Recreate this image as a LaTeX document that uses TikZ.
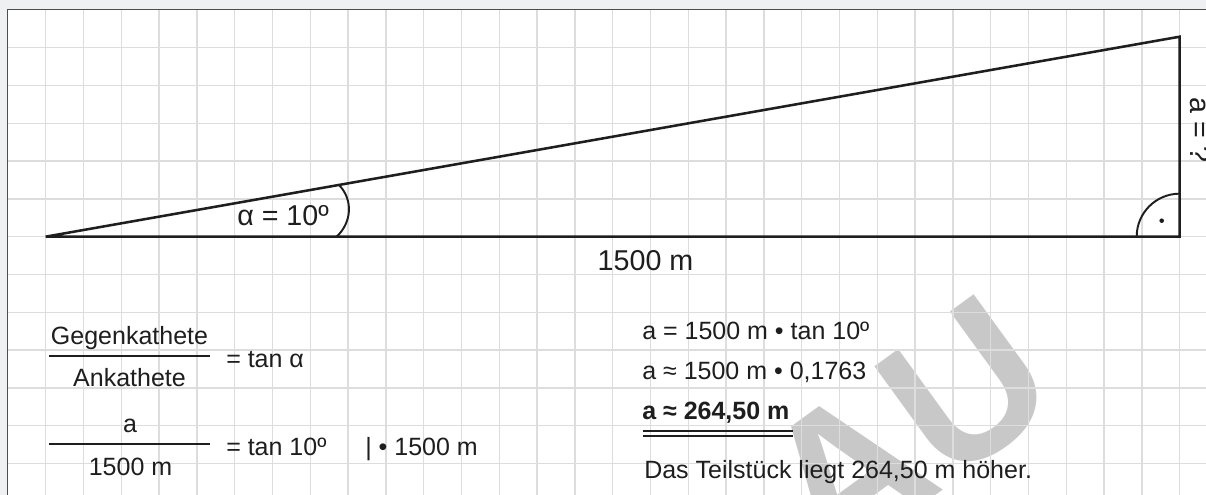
\documentclass[tikz,border=0pt]{standalone}
\usepackage{fontspec}
\setmainfont{Liberation Sans}
\definecolor{ink}{HTML}{1E1E1E}
\definecolor{outerbg}{HTML}{EEF0F2}
\definecolor{framecol}{HTML}{4D4D4D}
\definecolor{gridcol}{HTML}{DDDDDD}
\definecolor{wmark}{HTML}{C8C8C8}
\newcommand\eqfnt{\fontsize{18.75pt}{22pt}\selectfont}
\newcommand\trifnt{\fontsize{21.5pt}{26pt}\selectfont}
\newcommand\wmfnt{\fontsize{153pt}{160pt}\selectfont\bfseries}
\begin{document}
\begin{tikzpicture}[x=0.75pt,y=-0.75pt,
  gridline/.style={draw=gridcol,line width=1.05pt},
  frameline/.style={draw=framecol,line width=1.2pt},
  thickline/.style={draw=ink,line width=1.9pt,line join=miter},
  thinarc/.style={draw=ink,line width=1.45pt},
  barline/.style={draw=ink,line width=1.5pt},
  eqtxt/.style={inner sep=0pt,text=ink,font=\eqfnt},
  trilbl/.style={inner sep=0pt,text=ink,font=\trifnt},
  wmtxt/.style={inner sep=0pt,text=wmark,font=\wmfnt}]
\useasboundingbox (0,0) rectangle (1206,495);
% backgrounds
\fill[outerbg] (0,0) rectangle (1206,495);
\fill[white] (7.5,9.5) rectangle (1206,495);
% watermark
\begin{scope}
\clip (7.5,9.5) rectangle (1206,495);
\node[wmtxt,rotate=36,anchor=base west] (wm) at (828.4,573.9) {AU};
\end{scope}
% grid
\foreach \k in {1,...,31} \draw[gridline] ({7.87+37.8*\k},9.9) -- ({7.87+37.8*\k},495);
\foreach \k in {1,...,12} \draw[gridline] (7.5,{9.9+37.8*\k}) -- (1206,{9.9+37.8*\k});
% frame
\draw[frameline] (7.5,495) -- (7.5,9.5) -- (1206,9.5);
% triangle
\coordinate (A) at (45.67,236.67);
\coordinate (C) at (1179.67,236.67);
\coordinate (B) at (1179.67,36.7);
\draw[thickline] (A) -- (C) -- (B) -- cycle;
% angle alpha
\draw[thinarc] (336.7,236.67) .. controls (352,222) and (353,200) .. (339.5,185.5);
\node[trilbl,anchor=base west] (alpha) at (237,226) {α = 10º};
% right angle
\draw[thinarc] (1136.67,236.67) .. controls (1136.67,212.9) and (1155.9,193.67) .. (1179.67,193.67);
\fill[ink] (1161.7,220.7) circle[radius=2.3];
% side labels
\node[trilbl,anchor=base] (base) at (645.5,270.7) {1500 m};
\node[trilbl,anchor=base,rotate=-90] (side) at (1190,130) {a = ?};
% left equations
\node[eqtxt,anchor=base] (gk) at (129.5,344) {Gegenkathete};
\draw[barline] (49.3,356) -- (210,356);
\node[eqtxt,anchor=base] (ak) at (129.5,386) {Ankathete};
\node[eqtxt,anchor=base west] (tana) at (226,367) {= tan α};
\node[eqtxt,anchor=base] (anum) at (130,432.7) {a};
\draw[barline] (49.3,444) -- (210,444);
\node[eqtxt,anchor=base] (aden) at (130.5,475) {1500 m};
\node[eqtxt,anchor=base west] (tanten) at (226,455) {= tan 10º};
\node[eqtxt,anchor=base west] (mult) at (365,455) {| • 1500 m};
% right equations
\node[eqtxt,anchor=base west] (r1) at (642,339.3) {a = 1500 m • tan 10º};
\node[eqtxt,anchor=base west] (r2) at (642,379.3) {a ≈ 1500 m • 0,1763};
\node[eqtxt,anchor=base west,font=\eqfnt\bfseries] (r3) at (642,419.3) {a ≈ 264,50 m};
\draw[barline,line width=1.6pt] (642.7,431.2) -- (793.3,431.2);
\draw[barline,line width=1.6pt] (642.7,435.8) -- (793.3,435.8);
\node[eqtxt,anchor=base west] (r4) at (644,478.3) {Das Teilstück liegt 264,50 m höher.};
\end{tikzpicture}
\end{document}
